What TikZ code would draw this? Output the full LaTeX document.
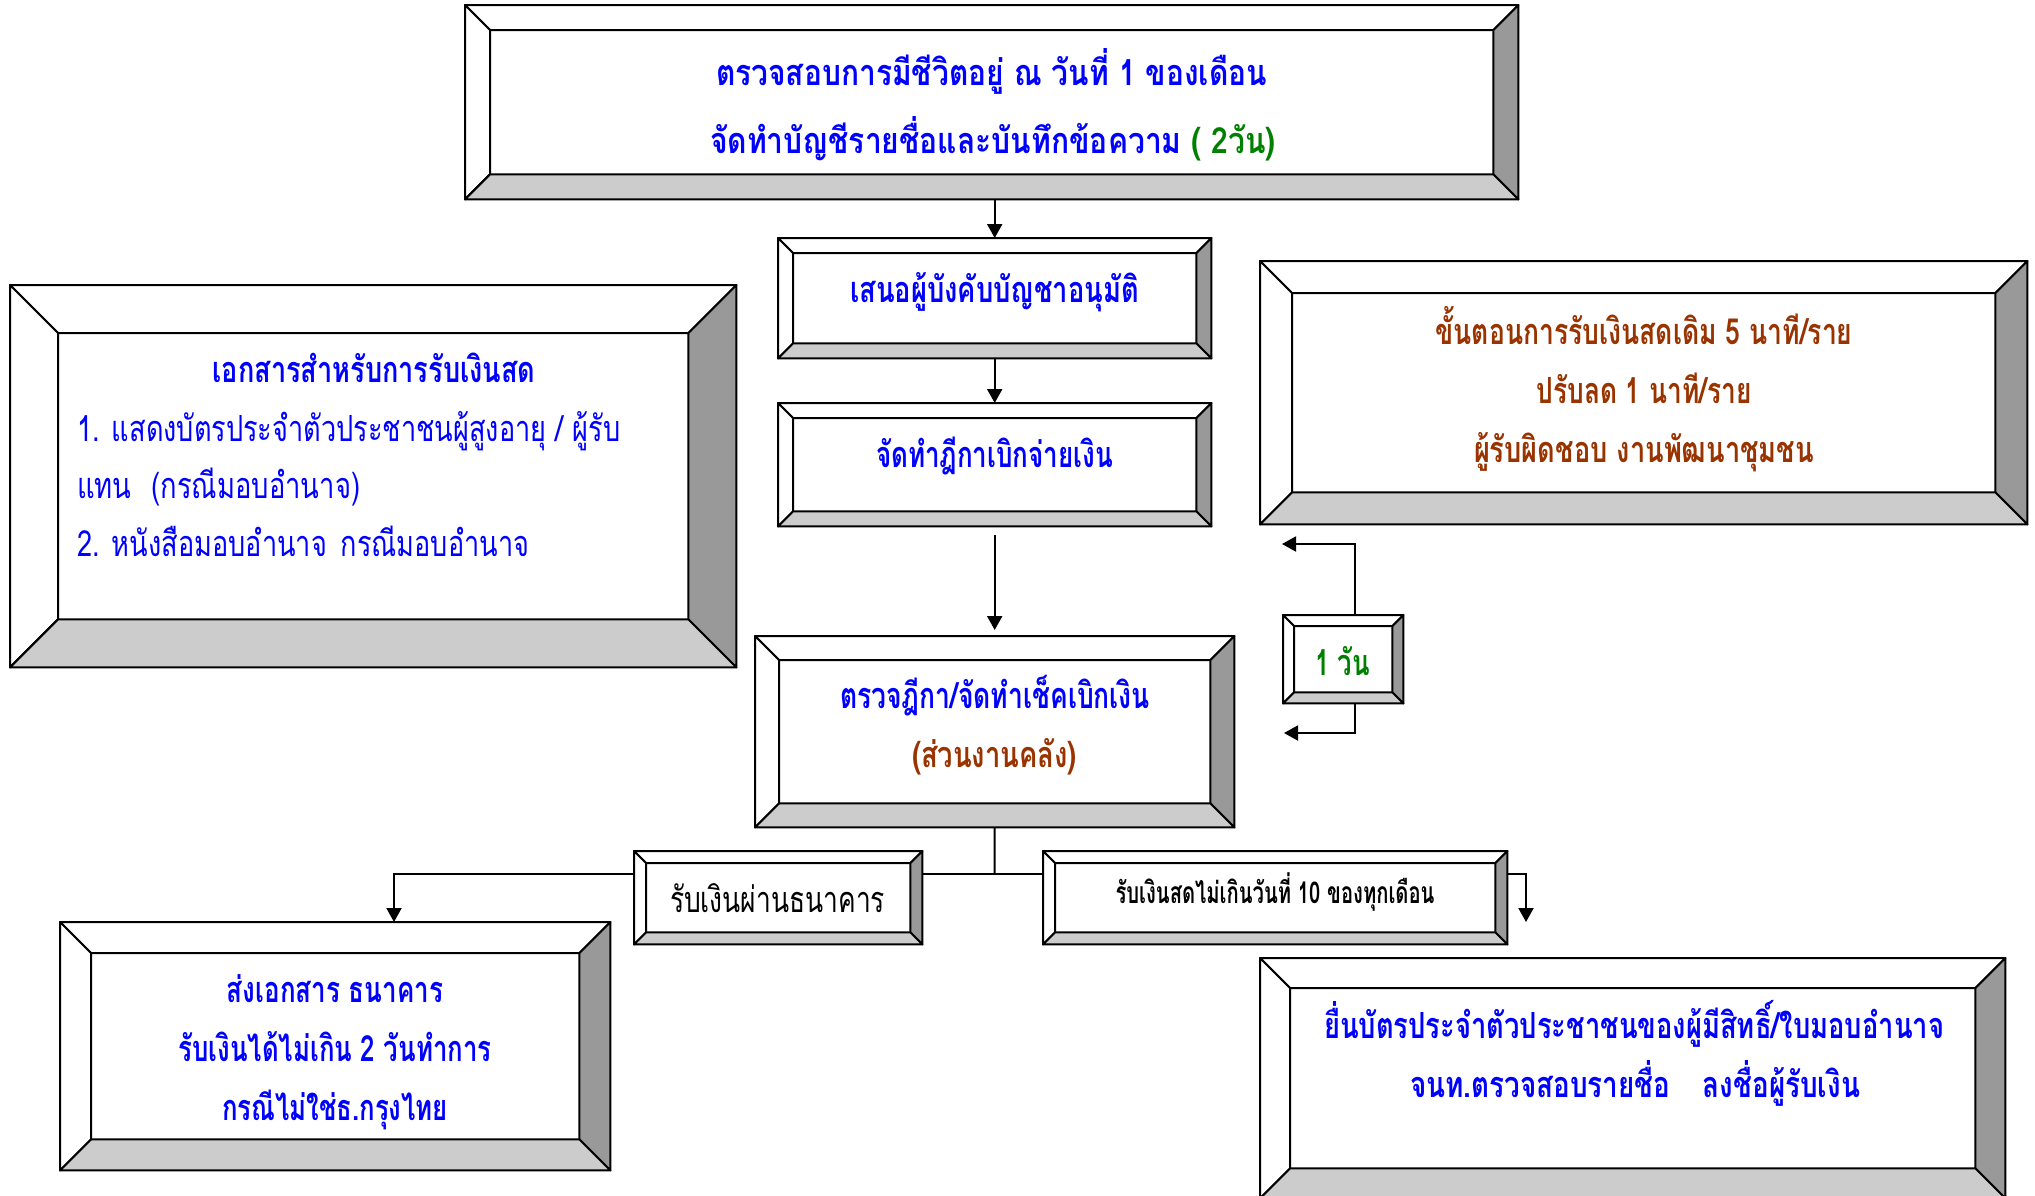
\documentclass[tikz,border=0pt]{standalone}
\usepackage{fontspec}
\usepackage{graphicx}
\newfontfamily\thai[Script=Thai]{Loma}
\usetikzlibrary{arrows.meta,calc}
\definecolor{tblue}{RGB}{0,0,255}
\definecolor{tbrown}{RGB}{153,51,0}
\definecolor{tgreen}{RGB}{0,128,0}
\definecolor{bevdark}{RGB}{153,153,153}
\definecolor{bevlight}{RGB}{204,204,204}
\newcommand\fitw[2]{\resizebox{#1pt}{\height}{#2}}
\tikzset{
  box/.style={anchor=north west, inner sep=0pt, draw=none},
  bev/.style={draw=black, line width=2pt, line join=round},
  txt/.style={anchor=base, inner sep=0pt, font=\thai\fontsize{36}{40}\selectfont},
  txtw/.style={anchor=base west, inner sep=0pt, font=\thai\fontsize{36}{40}\selectfont},
  conn/.style={line width=2pt},
  arr/.style={line width=2pt, -{Triangle[length=14pt,width=15pt]}},
}
\newcommand\bevel[2]{%
  \coordinate (o1) at (#1.north west);
  \coordinate (o2) at (#1.north east);
  \coordinate (o3) at (#1.south east);
  \coordinate (o4) at (#1.south west);
  \coordinate (i1) at ($(o1)+(#2pt,-#2pt)$);
  \coordinate (i2) at ($(o2)+(-#2pt,-#2pt)$);
  \coordinate (i3) at ($(o3)+(-#2pt,#2pt)$);
  \coordinate (i4) at ($(o4)+(#2pt,#2pt)$);
  \filldraw[bev,fill=white] (o1)--(o2)--(i2)--(i1)--cycle;
  \filldraw[bev,fill=white] (o1)--(i1)--(i4)--(o4)--cycle;
  \filldraw[bev,fill=bevdark] (o2)--(o3)--(i3)--(i2)--cycle;
  \filldraw[bev,fill=bevlight] (o4)--(i4)--(i3)--(o3)--cycle;
}
\begin{document}
\begin{tikzpicture}[x=1pt,y=-1pt]
\useasboundingbox (0,0) rectangle (2035,1195);
\clip (0,0) rectangle (2035,1195);
\fill[white] (0,0) rectangle (2035,1195);

% boxes
\node[box, minimum width=1053pt, minimum height=194pt] (top) at (465,5) {};
\node[box, minimum width=433pt, minimum height=120pt] (b2) at (778,238) {};
\node[box, minimum width=433pt, minimum height=123pt] (b3) at (778,403) {};
\node[box, minimum width=479pt, minimum height=191pt] (b4) at (755,636) {};
\node[box, minimum width=726pt, minimum height=382pt] (docs) at (10,285) {};
\node[box, minimum width=767pt, minimum height=263pt] (note) at (1260,261) {};
\node[box, minimum width=120pt, minimum height=88pt] (one) at (1283,615) {};
\node[box, minimum width=288pt, minimum height=93pt] (bank) at (634,851) {};
\node[box, minimum width=464pt, minimum height=93pt] (cash) at (1043,851) {};
\node[box, minimum width=550pt, minimum height=248pt] (bl) at (60,922) {};
\node[box, minimum width=745pt, minimum height=240pt] (br) at (1260,958) {};

\bevel{top}{25}
\bevel{b2}{15}
\bevel{b3}{15}
\bevel{b4}{24}
\bevel{docs}{48}
\bevel{note}{32}
\bevel{one}{11}
\bevel{bank}{12}
\bevel{cash}{12}
\bevel{bl}{31}
\bevel{br}{30}

% connectors
\draw[arr] (b2.north |- top.south) -- (b2.north);
\draw[arr] (b2.south) -- (b3.north);
\draw[arr, shorten <=9pt, shorten >=6pt] (b3.south) -- (b4.north);

\coordinate (fu) at (1355,544);
\coordinate (fut) at (1282,544);
\coordinate (fd) at (1355,733);
\coordinate (fdt) at (1284,733);
\draw[arr] (one.north -| fu) -- (fu) -- (fut);
\draw[arr] (one.south -| fd) -- (fd) -- (fdt);

\coordinate (j) at (994.5,874);
\coordinate (a1) at (394,922);
\coordinate (a2) at (1526,922);
\draw[conn] (b4.south) -- (j);
\draw[conn] (j) -- (j -| bank.east);
\draw[conn] (j) -- (j -| cash.west);
\draw[arr] (j -| bank.west) -| (a1);
\draw[arr] (j -| cash.east) -| (a2);

% texts
\node[txt, text=tblue] (t1) at (991.5,85) {\bfseries\fitw{551}{ตรวจสอบการมีชีวิตอยู่ ณ วันที่ 1 ของเดือน}};
\node[txt, text=tblue] (t2) at (993,153) {\bfseries\fitw{566}{จัดทำบัญชีรายชื่อและบันทึกข้อความ \textcolor{tgreen}{( 2วัน)}}};
\node[txt, text=tblue] (t3) at (994.5,302) {\bfseries\fitw{289}{เสนอผู้บังคับบัญชาอนุมัติ}};
\node[txt, text=tblue] (t4) at (994.5,467) {\bfseries\fitw{237}{จัดทำฎีกาเบิกจ่ายเงิน}};
\node[txt, text=tblue] (t5) at (995,708) {\bfseries\fitw{310}{ตรวจฎีกา/จัดทำเช็คเบิกเงิน}};
\node[txt, text=tbrown] (t6) at (994.5,767) {\bfseries\fitw{165}{(ส่วนงานคลัง)}};
\node[txt, text=tgreen] (t7) at (1342.5,675) {\bfseries\fitw{55}{1 วัน}};
\node[txt, text=tblue] (t8) at (374,382) {\bfseries\fitw{323}{เอกสารสำหรับการรับเงินสด}};
\node[txtw, text=tblue] (t9) at (77,441) {\fitw{543}{1. แสดงบัตรประจำตัวประชาชนผู้สูงอายุ / ผู้รับ}};
\node[txtw, text=tblue] (t10) at (77,498) {\fitw{283}{แทน\hspace{14pt} (กรณีมอบอำนาจ)}};
\node[txtw, text=tblue] (t11) at (77,556) {\fitw{452}{2. หนังสือมอบอำนาจ\hspace{6pt} กรณีมอบอำนาจ}};
\node[txt, text=tbrown] (t12) at (1644,344) {\bfseries\fitw{417}{ขั้นตอนการรับเงินสดเดิม 5 นาที/ราย}};
\node[txt, text=tbrown] (t13) at (1644,403) {\bfseries\fitw{215}{ปรับลด 1 นาที/ราย}};
\node[txt, text=tbrown] (t14) at (1644,462) {\bfseries\fitw{340}{ผู้รับผิดชอบ งานพัฒนาชุมชน}};
\node[txt, text=black] (t15) at (777.5,912) {\fitw{215}{รับเงินผ่านธนาคาร}};
\node[txt, text=black, font=\thai\fontsize{30}{34}\selectfont] (t16) at (1275,903) {\bfseries\fitw{319}{รับเงินสดไม่เกินวันที่ 10 ของทุกเดือน}};
\node[txt, text=tblue] (t17) at (335,1002) {\bfseries\fitw{216}{ส่งเอกสาร ธนาคาร}};
\node[txt, text=tblue] (t18) at (335,1061) {\bfseries\fitw{313}{รับเงินได้ไม่เกิน 2 วันทำการ}};
\node[txt, text=tblue] (t19) at (335,1120) {\bfseries\fitw{226}{กรณีไม่ใช่ธ.กรุงไทย}};
\node[txt, text=tblue] (t20) at (1634,1038) {\bfseries\fitw{620}{ยื่นบัตรประจำตัวประชาชนของผู้มีสิทธิ์/ใบมอบอำนาจ}};
\node[txt, text=tblue] (t21) at (1635,1097) {\bfseries\fitw{450}{จนท.ตรวจสอบรายชื่อ\hspace{30pt} ลงชื่อผู้รับเงิน}};
\end{tikzpicture}
\end{document}
